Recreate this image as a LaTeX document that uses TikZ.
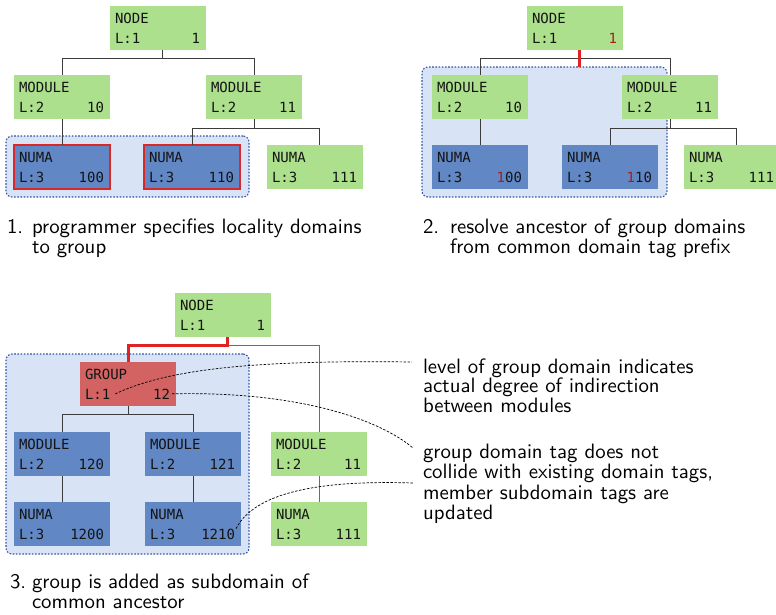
\documentclass[tikz,border=0pt]{standalone}
\usepackage{fontspec}
\newfontfamily\monof{DejaVu Sans Mono}
\newfontfamily\capf{lmsans10-regular.otf}
\definecolor{cgreen}{HTML}{ADE08C}
\definecolor{cblue}{HTML}{6187C4}
\definecolor{cgroup}{HTML}{D36262}
\definecolor{cbg}{HTML}{D8E4F6}
\definecolor{cdot}{HTML}{3453A8}
\definecolor{cselred}{HTML}{D92828}
\definecolor{chl}{HTML}{A81C1C}
\definecolor{chot}{HTML}{E02222}
\definecolor{cline}{HTML}{3C3C3C}
\tikzset{
  dom/.style={rectangle, minimum width=96pt, minimum height=44pt, inner sep=0pt, outer sep=0pt},
  grn/.style={fill=cgreen},
  blu/.style={fill=cblue},
  grp/.style={fill=cgroup},
  sel/.style={fill=cblue, draw=cselred, line width=1.8pt},
  domtxt/.style={inner sep=0pt, outer sep=0pt, font=\monof\fontsize{14}{15}\selectfont, text=black!92},
  tree/.style={draw=cline, line width=0.9pt},
  hot/.style={draw=chot, line width=3pt},
  grpbg/.style={rectangle, fill=cbg, draw=cdot, line width=1.1pt, dash pattern=on 1.6pt off 1.6pt, rounded corners=6pt, inner sep=0pt, outer sep=0pt, anchor=north west},
  captxt/.style={inner sep=0pt, outer sep=0pt, font=\capf\fontsize{20.8}{20}\selectfont, anchor=base west},
  note/.style={draw=black, line width=0.7pt, dash pattern=on 2.5pt off 1.5pt},
}
\newcommand\dombox[7]{%
  \node[dom,#4,anchor=north west] (#1) at (#2,#3) {};
  \node[domtxt,anchor=base west] (#1-t) at ([xshift=5pt,yshift=-17pt]#1.north west) {#5};
  \node[domtxt,anchor=base west] (#1-l) at ([xshift=5pt,yshift=-37pt]#1.north west) {#6};
  \node[domtxt,anchor=base east] (#1-g) at ([xshift=-6pt,yshift=-37pt]#1.north east) {#7};
}
\newcommand\hl[1]{{\color{chl}#1}}
\begin{document}
\begin{tikzpicture}[x=1pt,y=-1pt]
\clip (0,0) rectangle (776,614);
\fill[white] (0,0) rectangle (776,614);

% group backgrounds
\node[grpbg, minimum width=243pt, minimum height=61pt] (G1) at (6,136) {};
\node[grpbg, minimum width=245pt, minimum height=130pt] (G2) at (422,67) {};
\node[grpbg, minimum width=243pt, minimum height=200pt] (G3) at (6,354) {};

% ---------- panel 1 ----------
\dombox{n1}{110}{6}{grn}{NODE}{L:1}{1}
\dombox{m1a}{14}{75}{grn}{MODULE}{L:2}{10}
\dombox{m1b}{206}{75}{grn}{MODULE}{L:2}{11}
\dombox{u1a}{14}{145}{sel}{NUMA}{L:3}{100}
\dombox{u1b}{144}{145}{sel}{NUMA}{L:3}{110}
\dombox{u1c}{267}{145}{grn}{NUMA}{L:3}{111}
\draw[tree] ([xshift=4.5pt]n1.south) -- ++(0,8) -| (m1a.north);
\draw[tree] ([xshift=4.5pt]n1.south) -- ++(0,8) -| (m1b.north);
\draw[tree] (m1a.south) -- (u1a.north);
\draw[tree] (m1b.south) -- ++(0,9) -| (u1b.north);
\draw[tree] (m1b.south) -- ++(0,9) -| ([xshift=4pt]u1c.north);

% ---------- panel 2 ----------
\dombox{n2}{527}{6}{grn}{NODE}{L:1}{\hl{1}}
\dombox{m2a}{432}{75}{grn}{MODULE}{L:2}{10}
\dombox{m2b}{622}{75}{grn}{MODULE}{L:2}{11}
\dombox{u2a}{432}{145}{blu}{NUMA}{L:3}{\hl{1}00}
\dombox{u2b}{562}{145}{blu}{NUMA}{L:3}{\hl{1}10}
\dombox{u2c}{684}{145}{grn}{NUMA}{L:3}{111}
\draw[tree] ([xshift=4.5pt]n2.south) -- ++(0,8) -| (m2a.north);
\draw[tree] ([xshift=4.5pt]n2.south) -- ++(0,8) -| (m2b.north);
\draw[tree] (m2a.south) -- (u2a.north);
\draw[tree] (m2b.south) -- ++(0,9) -| (u2b.north);
\draw[tree] (m2b.south) -- ++(0,9) -| ([xshift=4pt]u2c.north);
\draw[hot] ([xshift=4.5pt]n2.south) -- ([xshift=4.5pt]n2.south |- G2.north);

% ---------- panel 3 ----------
\dombox{n3}{175}{293}{grn}{NODE}{L:1}{1}
\dombox{g3}{80}{362}{grp}{GROUP}{L:1}{12}
\dombox{m3a}{14}{432}{blu}{MODULE}{L:2}{120}
\dombox{m3b}{145}{432}{blu}{MODULE}{L:2}{121}
\dombox{m3c}{271}{432}{grn}{MODULE}{L:2}{11}
\dombox{u3a}{14}{502}{blu}{NUMA}{L:3}{1200}
\dombox{u3b}{145}{502}{blu}{NUMA}{L:3}{1210}
\dombox{u3c}{271}{502}{grn}{NUMA}{L:3}{111}
\draw[tree, draw=cline!75] ([xshift=4.5pt]n3.south) -- ++(0,8) -| (m3c.north);
\draw[hot] ([xshift=4.5pt]n3.south) -- ++(0,8) -| (g3.north);
\draw[tree] (g3.south) -- ++(0,8) -| (m3a.north);
\draw[tree] (g3.south) -- ++(0,8) -| (m3b.north);
\draw[tree] (m3a.south) -- (u3a.north);
\draw[tree] (m3b.south) -- (u3b.north);
\draw[tree, draw=cline!75] (m3c.south) -- (u3c.north);

% ---------- captions ----------
\node[captxt] (c1n) at (7,233.5) {1.};
\node[captxt] (c1a) at (32,233.5) {programmer specifies locality domains};
\node[captxt] (c1b) at (32,253) {to group};
\node[captxt] (c2n) at (423,233.5) {2.};
\node[captxt] (c2a) at (450,233.5) {resolve ancestor of group domains};
\node[captxt] (c2b) at (450,253) {from common domain tag prefix};
\node[captxt] (c3n) at (10,588.5) {3.};
\node[captxt] (c3a) at (32,588.5) {group is added as subdomain of};
\node[captxt] (c3b) at (32,608.5) {common ancestor};

% ---------- annotations ----------
\node[captxt] (a1a) at (423,373) {level of group domain indicates};
\node[captxt] (a1b) at (423,392.5) {actual degree of indirection};
\node[captxt] (a1c) at (423,412.5) {between modules};
\node[captxt] (a2a) at (423,458) {group domain tag does not};
\node[captxt] (a2b) at (423,478.5) {collide with existing domain tags,};
\node[captxt] (a2c) at (423,499) {member subdomain tags are};
\node[captxt] (a2d) at (423,519) {updated};

\coordinate (e1) at (412,362);
\coordinate (e2) at (413,448);
\coordinate (e3) at (413,483);
\draw[note] ([xshift=5pt]g3-l.east) .. controls (170,368) and (260,360) .. (e1);
\draw[note] ([xshift=2pt]g3-g.east) .. controls (300,391) and (380,420) .. (e2);
\draw[note] ([xshift=1pt]u3b-g.north east) .. controls (255,492) and (320,480) .. (e3);
\end{tikzpicture}
\end{document}
